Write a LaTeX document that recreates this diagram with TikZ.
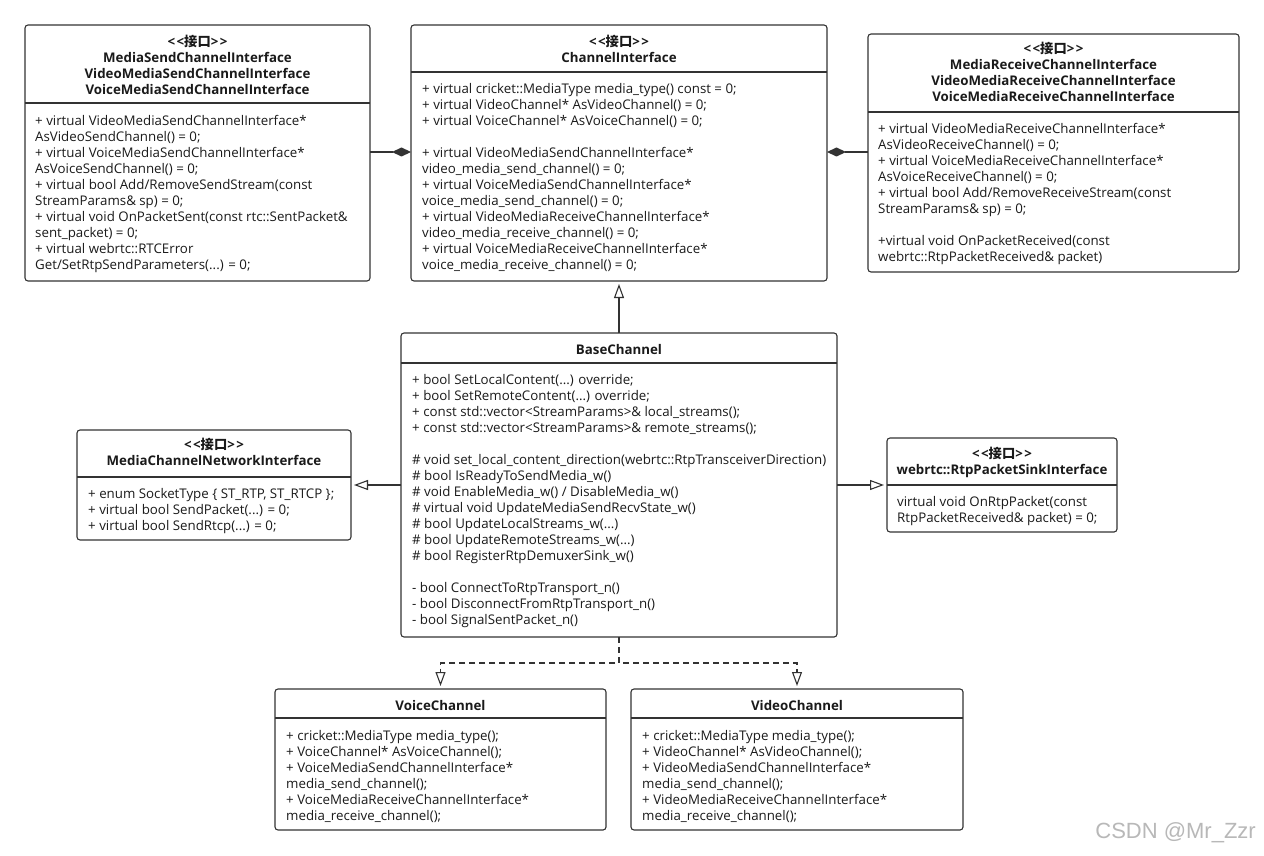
\documentclass[tikz,border=0pt]{standalone}
\usepackage{fontspec}
\setmainfont{Open Sans}
\newfontfamily\cjk{Noto Sans CJK SC}
\newfontfamily\wmfont{Liberation Sans}
\usetikzlibrary{arrows.meta}
\definecolor{ln}{HTML}{333333}
\definecolor{tx}{HTML}{1A1A1A}
\definecolor{wm}{HTML}{B8B8B8}
\newcommand\bodyfs{\fontsize{13.3}{16}\selectfont}
\newcommand\sst{\rule{0pt}{12pt}}
\newcommand\stereo{<\kern1.5pt<{\cjk 接口}>\kern1.5pt>}
\tikzset{
  umlbox/.style={draw=ln, line width=1.1pt, rounded corners=3pt, fill=white, inner sep=0pt, outer sep=0pt, anchor=north west},
  body/.style={anchor=north west, align=left, inner sep=0pt, font=\bodyfs, text=tx, yshift=-1pt},
  title/.style={anchor=north, align=center, inner sep=0pt, font=\bodyfs\bfseries, text=tx, yshift=-1pt},
  divider/.style={draw=ln, line width=1.1pt},
  conn/.style={draw=ln, line width=1.1pt},
  realize/.style={conn, -{Triangle[open, length=14pt, width=10pt, fill=white]}, shorten >=3pt},
  compo/.style={conn, {Diamond[length=19pt, width=9pt]}-},
}
\begin{document}
\begin{tikzpicture}[x=1pt, y=-1pt]
\fill[white] (0,0) rectangle (1264,856);
\useasboundingbox (0,0) rectangle (1264,856);

% ---------- MediaSend box
\node[umlbox, minimum width=345pt, minimum height=256pt] (ms) at (25,25) {};
\draw[divider] (ms.west |- 0,103) -- (ms.east |- 0,103);
\node[title] (ms-t) at (197.5,33.5) {\sst\stereo\\MediaSendChannelInterface\\VideoMediaSendChannelInterface\\VoiceMediaSendChannelInterface};
\node[body] (ms-b) at (35,112.5) {\sst + virtual VideoMediaSendChannelInterface*\\
AsVideoSendChannel() = 0;\\
+ virtual VoiceMediaSendChannelInterface*\\
AsVoiceSendChannel() = 0;\\
+ virtual bool Add/RemoveSendStream(const\\
StreamParams\& sp) = 0;\\
+ virtual void OnPacketSent(const rtc::SentPacket\&\\
sent\_packet) = 0;\\
+ virtual webrtc::RTCError\\
Get/SetRtpSendParameters(...) = 0;};

% ---------- ChannelInterface
\node[umlbox, minimum width=416pt, minimum height=256pt] (ci) at (411,25) {};
\draw[divider] (ci.west |- 0,72) -- (ci.east |- 0,72);
\node[title] (ci-t) at (619,33.5) {\sst\stereo\\ChannelInterface};
\node[body] (ci-b) at (422,80.5) {\sst + virtual cricket::MediaType media\_type() const = 0;\\
+ virtual VideoChannel* AsVideoChannel() = 0;\\
+ virtual VoiceChannel* AsVoiceChannel() = 0;\\[16pt]
+ virtual VideoMediaSendChannelInterface*\\
video\_media\_send\_channel() = 0;\\
+ virtual VoiceMediaSendChannelInterface*\\
voice\_media\_send\_channel() = 0;\\
+ virtual VideoMediaReceiveChannelInterface*\\
video\_media\_receive\_channel() = 0;\\
+ virtual VoiceMediaReceiveChannelInterface*\\
voice\_media\_receive\_channel() = 0;};

% ---------- MediaReceive box
\node[umlbox, minimum width=371pt, minimum height=238pt] (mr) at (868,34) {};
\draw[divider] (mr.west |- 0,112) -- (mr.east |- 0,112);
\node[title] (mr-t) at (1053.5,40.5) {\sst\stereo\\MediaReceiveChannelInterface\\VideoMediaReceiveChannelInterface\\VoiceMediaReceiveChannelInterface};
\node[body] (mr-b) at (878,120.5) {\sst + virtual VideoMediaReceiveChannelInterface*\\
AsVideoReceiveChannel() = 0;\\
+ virtual VoiceMediaReceiveChannelInterface*\\
AsVoiceReceiveChannel() = 0;\\
+ virtual bool Add/RemoveReceiveStream(const\\
StreamParams\& sp) = 0;\\[16pt]
+virtual void OnPacketReceived(const\\
webrtc::RtpPacketReceived\& packet)};

% ---------- BaseChannel
\node[umlbox, minimum width=436pt, minimum height=304pt] (bc) at (401,333) {};
\draw[divider] (bc.west |- 0,363) -- (bc.east |- 0,363);
\node[title] (bc-t) at (619,341.5) {\sst BaseChannel};
\node[body] (bc-b) at (412,371.5) {\sst + bool SetLocalContent(...) override;\\
+ bool SetRemoteContent(...) override;\\
+ const std::vector<StreamParams>\& local\_streams();\\
+ const std::vector<StreamParams>\& remote\_streams();\\[16pt]
\# void set\_local\_content\_direction(webrtc::RtpTransceiverDirection)\\
\# bool IsReadyToSendMedia\_w()\\
\# void EnableMedia\_w() / DisableMedia\_w()\\
\# virtual void UpdateMediaSendRecvState\_w()\\
\# bool UpdateLocalStreams\_w(...)\\
\# bool UpdateRemoteStreams\_w(...)\\
\# bool RegisterRtpDemuxerSink\_w()\\[16pt]
- bool ConnectToRtpTransport\_n()\\
- bool DisconnectFromRtpTransport\_n()\\
- bool SignalSentPacket\_n()};

% ---------- MediaChannelNetworkInterface
\node[umlbox, minimum width=274pt, minimum height=110pt] (net) at (77,430) {};
\draw[divider] (net.west |- 0,477) -- (net.east |- 0,477);
\node[title] (net-t) at (214,436.5) {\sst\stereo\\MediaChannelNetworkInterface};
\node[body] (net-b) at (88,485.5) {\sst + enum SocketType \{ ST\_RTP, ST\_RTCP \};\\
+ virtual bool SendPacket(...) = 0;\\
+ virtual bool SendRtcp(...) = 0;};

% ---------- RtpPacketSinkInterface
\node[umlbox, minimum width=230pt, minimum height=94pt] (sink) at (887,438) {};
\draw[divider] (sink.west |- 0,485) -- (sink.east |- 0,485);
\node[title] (sink-t) at (1002,445.5) {\sst\stereo\\webrtc::RtpPacketSinkInterface};
\node[body] (sink-b) at (897,493.5) {\sst virtual void OnRtpPacket(const\\
RtpPacketReceived\& packet) = 0;};

% ---------- VoiceChannel
\node[umlbox, minimum width=331pt, minimum height=141pt] (vo) at (275,689) {};
\draw[divider] (vo.west |- 0,718) -- (vo.east |- 0,718);
\node[title] (vo-t) at (440.5,697.5) {\sst VoiceChannel};
\node[body] (vo-b) at (286,727.5) {\sst + cricket::MediaType media\_type();\\
+ VoiceChannel* AsVoiceChannel();\\
+ VoiceMediaSendChannelInterface*\\
media\_send\_channel();\\
+ VoiceMediaReceiveChannelInterface*\\
media\_receive\_channel();};

% ---------- VideoChannel
\node[umlbox, minimum width=332pt, minimum height=141pt] (vi) at (631,689) {};
\draw[divider] (vi.west |- 0,718) -- (vi.east |- 0,718);
\node[title] (vi-t) at (797,697.5) {\sst VideoChannel};
\node[body] (vi-b) at (642,727.5) {\sst + cricket::MediaType media\_type();\\
+ VideoChannel* AsVideoChannel();\\
+ VideoMediaSendChannelInterface*\\
media\_send\_channel();\\
+ VideoMediaReceiveChannelInterface*\\
media\_receive\_channel();};

% ---------- connectors
\draw[compo] (ci.west |- 0,152) -- (ms.east |- 0,152);
\draw[compo] (ci.east |- 0,152) -- (mr.west |- 0,152);
\draw[realize] (bc.north) -- (ci.south);
\draw[realize] (bc.west) -- (bc.west -| net.east);
\draw[realize] (bc.east) -- (bc.east -| sink.west);
\draw[realize, dash pattern=on 6pt off 4pt] (bc.south) -- ++(0,26) -| (vo.north);
\draw[realize, dash pattern=on 6pt off 4pt] (bc.south) -- ++(0,26) -| (vi.north);

\node[text=wm, font=\wmfont\fontsize{22}{24}\selectfont, anchor=east, inner sep=0pt] (csdn) at (1256,833) {CSDN @Mr\_Zzr};
\end{tikzpicture}
\end{document}
